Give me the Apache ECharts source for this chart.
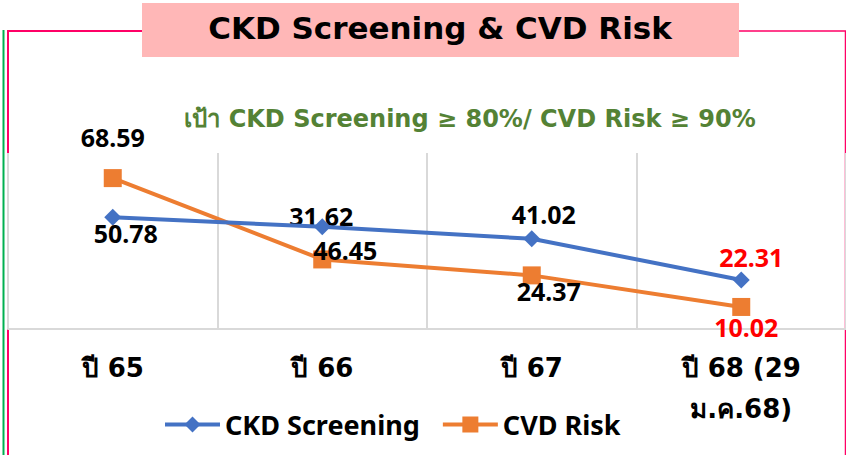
<!DOCTYPE html>
<html>
<head>
<meta charset="utf-8">
<script src="https://cdn.jsdelivr.net/npm/echarts@6/dist/echarts.min.js"></script>
<style>
  html, body { margin: 0; padding: 0; background: #fff; }
  #chart { width: 846px; height: 455px; }
</style>
</head>
<body>
<div id="chart"></div>
<script>
// Years on the category axis
const years = ['ปี 65', 'ปี 66', 'ปี 67', 'ปี 68 (29\nม.ค.68)'];
// Percentages per year
const ckdScreening = [50.78, 46.45, 41.02, 22.31];
const cvdRisk = [68.59, 31.62, 24.37, 10.02];
// Label nudges [dx, dy] from each point, and label colours
const ckdLabelOffsets = [[13, 16], [23, 23], [12, -25], [10, -23]];
const cvdLabelOffsets = [[0, -41], [-1, -43], [17, 16], [5, 20]];
const labelColors = ['#000000', '#000000', '#000000', '#FF0000'];

const FONT = "'Noto Sans', 'Noto Sans Thai', 'DejaVu Sans', sans-serif";
const WIDE = "'DejaVu Sans', 'Noto Sans', sans-serif";

function buildData(values, offsets) {
  return values.map((v, i) => ({
    value: v,
    label: { offset: offsets[i], color: labelColors[i] }
  }));
}

const chart = echarts.init(document.getElementById('chart'), null, { renderer: 'svg' });

chart.setOption({
  animation: false,
  backgroundColor: '#ffffff',
  title: {
    text: 'เป้า CKD Screening ≥ 80%/ CVD Risk ≥ 90%',
    left: 465,
    top: 102,
    textAlign: 'center',
    textStyle: { color: '#548235', fontSize: 24, fontWeight: 'bold', fontFamily: WIDE }
  },
  graphic: [
    // frame lines
    { type: 'line', shape: { x1: 3.5, y1: 30, x2: 3.5, y2: 455 }, style: { stroke: '#00B050', lineWidth: 2 } },
    { type: 'polyline', shape: { points: [[142, 31], [8, 31], [8, 455]] }, style: { stroke: '#FF0066', lineWidth: 2, fill: null } },
    { type: 'polyline', shape: { points: [[739, 31], [845.5, 31], [845.5, 455]] }, style: { stroke: '#FF0066', lineWidth: 1.5, fill: null } },
    // title box
    { type: 'rect', shape: { x: 142, y: 3, width: 597, height: 54 }, style: { fill: '#FFB7B7' } },
    {
      type: 'text', x: 440, y: 28,
      style: {
        text: 'CKD Screening & CVD Risk', align: 'center', verticalAlign: 'middle',
        fill: '#000000', font: "bold 31px " + WIDE
      }
    }
  ],
  grid: { left: 8, top: 153, width: 840, bottom: 126, containLabel: false },
  xAxis: {
    type: 'category',
    data: years,
    boundaryGap: true,
    axisLine: { lineStyle: { color: '#D9D9D9', width: 2 } },
    axisTick: { show: false },
    splitLine: { show: true, lineStyle: { color: '#D9D9D9', width: 2 } },
    axisLabel: {
      interval: 0,
      margin: 18,
      color: '#000000',
      fontSize: 26,
      fontWeight: 'bold',
      fontFamily: WIDE,
      lineHeight: 41
    }
  },
  yAxis: {
    type: 'value',
    min: 0,
    max: 80,
    show: false,
    splitLine: { show: false }
  },
  legend: {
    left: 158,
    top: 406,
    itemWidth: 55,
    itemHeight: 20,
    itemGap: 21,
    lineStyle: { width: 4 },
    textStyle: { color: '#000000', fontSize: 27, fontWeight: 'bold', fontFamily: FONT },
    data: ['CKD Screening', 'CVD Risk']
  },
  series: [
    {
      name: 'CKD Screening',
      type: 'line',
      data: buildData(ckdScreening, ckdLabelOffsets),
      symbol: 'diamond',
      symbolSize: 17,
      color: '#4472C4',
      lineStyle: { color: '#4472C4', width: 4 },
      itemStyle: { color: '#4472C4' },
      label: {
        show: true, position: 'inside',
        fontSize: 25, fontWeight: 'bold', fontFamily: FONT
      },
      z: 3
    },
    {
      name: 'CVD Risk',
      type: 'line',
      data: buildData(cvdRisk, cvdLabelOffsets),
      symbol: 'rect',
      symbolSize: 18,
      color: '#ED7D31',
      lineStyle: { color: '#ED7D31', width: 4 },
      itemStyle: { color: '#ED7D31' },
      label: {
        show: true, position: 'inside',
        fontSize: 25, fontWeight: 'bold', fontFamily: FONT
      },
      z: 2
    }
  ]
});
</script>
</body>
</html>
